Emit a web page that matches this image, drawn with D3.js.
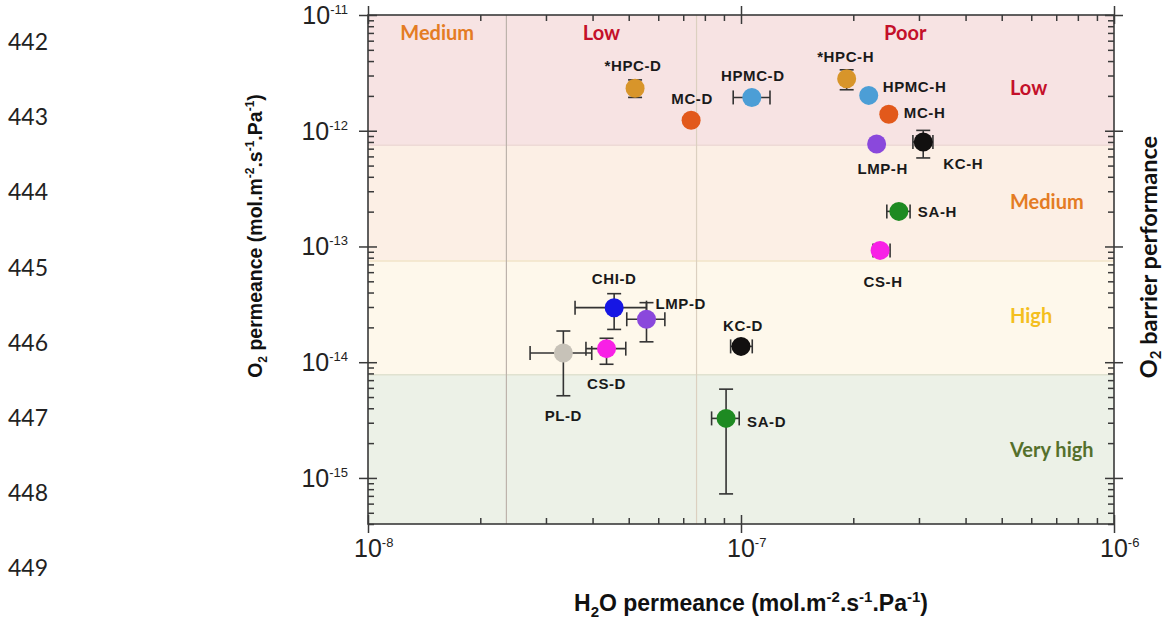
<!DOCTYPE html>
<html>
<head>
<meta charset="utf-8">
<script src="https://cdn.jsdelivr.net/npm/d3@7"></script>
<style>
  html, body { margin: 0; padding: 0; background: #ffffff; }
  svg { display: block; }
</style>
</head>
<body>
<svg id="chart" width="1167" height="619"></svg>
<script>
// ---------------- DATA ----------------
const samples = ["*HPC-D", "MC-D", "HPMC-D", "*HPC-H", "HPMC-H", "MC-H", "LMP-H", "KC-H",
                 "SA-H", "CS-H", "CHI-D", "LMP-D", "CS-D", "PL-D", "KC-D", "SA-D"];
const materials = ["HPC", "MC", "HPMC", "HPC", "HPMC", "MC", "LMP", "KC",
                   "SA", "CS", "CHI", "LMP", "CS", "PL", "KC", "SA"];
// H2O permeance (mol.m-2.s-1.Pa-1)
const h2o     = [5.20e-8, 7.35e-8, 1.069e-7, 1.92e-7, 2.20e-7, 2.49e-7, 2.31e-7, 3.08e-7,
                 2.65e-7, 2.36e-7, 4.57e-8, 5.58e-8, 4.36e-8, 3.34e-8, 1.00e-7, 9.12e-8];
const h2oLow  = [null, null, 9.53e-8, null, null, null, null, 2.89e-7,
                 2.46e-7, 2.26e-7, 3.59e-8, 4.94e-8, 3.84e-8, 2.72e-8, 9.38e-8, 8.34e-8];
const h2oHigh = [null, null, 1.196e-7, null, null, null, null, 3.27e-7,
                 2.84e-7, 2.51e-7, 5.58e-8, 6.25e-8, 4.91e-8, 3.98e-8, 1.072e-7, 9.89e-8];
// O2 permeance (mol.m-2.s-1.Pa-1)
const o2      = [2.33e-12, 1.23e-12, 1.94e-12, 2.81e-12, 2.02e-12, 1.39e-12, 7.68e-13, 8.0e-13,
                 2.01e-13, 9.25e-14, 2.96e-14, 2.35e-14, 1.31e-14, 1.20e-14, 1.37e-14, 3.27e-15];
const o2Low   = [1.94e-12, null, null, 2.26e-12, null, null, null, 5.82e-13,
                 null, null, 1.92e-14, 1.50e-14, 9.6e-15, 5.13e-15, null, 7.28e-16];
const o2High  = [2.75e-12, null, null, 3.36e-12, null, null, null, 1.007e-12,
                 null, null, 3.91e-14, 3.27e-14, 1.61e-14, 1.86e-14, null, 5.85e-15];

// axis ticks
const xTicks = [1e-8, 1e-7, 1e-6];
const xTickExp = ["-8", "-7", "-6"];
const yTicks = [1e-11, 1e-12, 1e-13, 1e-14, 1e-15];
const yTickExp = ["-11", "-12", "-13", "-14", "-15"];

// O2 barrier performance bands (horizontal)
const o2BandNames = ["Low", "Medium", "High", "Very high"];
const o2BandTop    = [1e-11, 7.5e-13, 7.5e-14, 7.8e-15];
const o2BandBottom = [7.5e-13, 7.5e-14, 7.8e-15, 4e-16];
const o2BandLabelAt = [2.34e-12, 2.4e-13, 2.5e-14, 1.74e-15];

// H2O barrier zones (vertical)
const h2oZoneNames = ["Medium", "Low", "Poor"];
const h2oZoneLeft  = [1e-8, 2.35e-8, 7.6e-8];
const h2oZoneRight = [2.35e-8, 7.6e-8, 1e-6];

const lineNumbers = ["442", "443", "444", "445", "446", "447", "448", "449"];

// ---------------- STYLE / LAYOUT ----------------
const materialColor = {
  HPC: "#d8952a", MC: "#e2591b", HPMC: "#4c9ed6", LMP: "#8a48dc", KC: "#121010",
  SA: "#1e8a22", CS: "#f820e6", CHI: "#1616e4", PL: "#c7c2b8"
};
const bandFill = ["#f7e3e3", "#fcefe5", "#fef8eb", "#ecf1e7"];
const bandLine = ["#eedad6", "#f2e4c8", "#e0e2d0", null];
const bandTextColor = ["#c4102a", "#e47c24", "#f4bf1e", "#55702c"];
const zoneTextColor = ["#e47c24", "#c4102a", "#c4102a"];
// label offsets relative to marker centre: [dx, dy, anchor]
const labelPos = [
  [-2, -17, "middle"], [1, -16, "middle"], [1, -16, "middle"], [-1, -17, "middle"],
  [14, -3, "start"], [15, 4, "start"], [6, 30, "middle"], [40, 27, "middle"],
  [19, 6, "start"], [3, 37, "middle"], [0, -24, "middle"], [9, -10, "start"],
  [0, 40, "middle"], [0, 68, "middle"], [2, -15, "middle"], [21, 9, "start"]
];

const svg = d3.select("#chart");
const L = 368, R = 1114, T = 15, B = 524;

const x = d3.scaleLog().domain([1e-8, 1e-6]).range([L, R]);
const y = d3.scaleLog().domain([4e-16, 1e-11]).range([B, T]);

// bands
const g = svg.append("g");
g.selectAll("rect.band").data(o2BandNames).join("rect")
  .attr("x", L).attr("width", R - L)
  .attr("y", (d, i) => y(o2BandTop[i]))
  .attr("height", (d, i) => y(o2BandBottom[i]) - y(o2BandTop[i]))
  .attr("fill", (d, i) => bandFill[i]);
g.selectAll("line.bandline").data(o2BandNames.slice(0, 3)).join("line")
  .attr("x1", L).attr("x2", R)
  .attr("y1", (d, i) => y(o2BandBottom[i])).attr("y2", (d, i) => y(o2BandBottom[i]))
  .attr("stroke", (d, i) => bandLine[i]).attr("stroke-width", 1.5);

// vertical zone lines
g.selectAll("line.zone").data(h2oZoneLeft.slice(1)).join("line")
  .attr("x1", d => x(d)).attr("x2", d => x(d))
  .attr("y1", T).attr("y2", B)
  .attr("stroke", (d, i) => i === 0 ? "#bdb3ab" : "#dcd0c0").attr("stroke-width", 1.2);

// zone labels (top)
g.selectAll("text.zone").data(h2oZoneNames).join("text")
  .attr("x", (d, i) => (x(h2oZoneLeft[i]) + x(h2oZoneRight[i])) / 2)
  .attr("y", 40)
  .attr("text-anchor", "middle")
  .attr("font-family", "Lato, 'Open Sans', sans-serif")
  .attr("font-weight", "bold").attr("font-size", 20)
  .attr("fill", (d, i) => zoneTextColor[i])
  .text(d => d);

// band labels (right side)
g.selectAll("text.band").data(o2BandNames).join("text")
  .attr("x", 1010)
  .attr("y", (d, i) => y(o2BandLabelAt[i]) + 7)
  .attr("font-family", "Lato, 'Open Sans', sans-serif")
  .attr("font-weight", "bold").attr("font-size", 20)
  .attr("fill", (d, i) => bandTextColor[i])
  .text(d => d);

// ---------------- AXES ----------------
const axisColor = "#3a3a3a";
const minorX = [];
[1e-8, 1e-7].forEach(dec => { for (let k = 2; k <= 9; k++) minorX.push(dec * k); });
const minorY = [];
[1e-16, 1e-15, 1e-14, 1e-13, 1e-12].forEach(dec => {
  for (let k = 2; k <= 9; k++) { const v = dec * k; if (v >= 4e-16 && v <= 1e-11) minorY.push(v); }
});

const ax = svg.append("g").attr("stroke", axisColor).attr("fill", "none");
ax.append("rect").attr("x", L).attr("y", T).attr("width", R - L).attr("height", B - T)
  .attr("stroke-width", 1.6);

const xBottom = d3.axisBottom(x).tickValues(xTicks).tickSize(9).tickFormat("");
const xBottomMinor = d3.axisTop(x).tickValues(minorX).tickSize(6).tickFormat("");
const xBottomMajorIn = d3.axisTop(x).tickValues(xTicks).tickSize(9).tickFormat("");
const xTop = d3.axisTop(x).tickValues(xTicks).tickSize(9).tickFormat("");
const xTopMinor = d3.axisBottom(x).tickValues(minorX).tickSize(6).tickFormat("");
const xTopMajorIn = d3.axisBottom(x).tickValues(xTicks).tickSize(9).tickFormat("");
const yLeft = d3.axisLeft(y).tickValues(yTicks).tickSize(9).tickFormat("");
const yLeftMinor = d3.axisRight(y).tickValues(minorY).tickSize(6).tickFormat("");
const yLeftMajorIn = d3.axisRight(y).tickValues(yTicks).tickSize(9).tickFormat("");
const yRight = d3.axisRight(y).tickValues(yTicks).tickSize(9).tickFormat("");
const yRightMinor = d3.axisLeft(y).tickValues(minorY).tickSize(6).tickFormat("");
const yRightMajorIn = d3.axisLeft(y).tickValues(yTicks).tickSize(9).tickFormat("");

function addAxis(axisFn, tx, ty) {
  const a = svg.append("g").attr("transform", `translate(${tx},${ty})`).call(axisFn);
  a.select(".domain").remove();
  a.selectAll(".tick line").attr("stroke", axisColor).attr("stroke-width", 1.5);
  return a;
}
addAxis(xBottom, 0, B); addAxis(xBottomMinor, 0, B); addAxis(xBottomMajorIn, 0, B);
addAxis(xTop, 0, T); addAxis(xTopMinor, 0, T); addAxis(xTopMajorIn, 0, T);
addAxis(yLeft, L, 0); addAxis(yLeftMinor, L, 0); addAxis(yLeftMajorIn, L, 0);
addAxis(yRight, R, 0); addAxis(yRightMinor, R, 0); addAxis(yRightMajorIn, R, 0);

// tick labels
const tickFont = "'Liberation Sans', Arial, sans-serif";
const xl = svg.append("g").selectAll("text").data(xTicks).join("text")
  .attr("x", d => x(d) - 14).attr("y", 557)
  .attr("font-family", tickFont).attr("font-size", 25).attr("fill", "#222");
xl.append("tspan").text("10");
xl.append("tspan").attr("font-size", 13).attr("dy", -10).text((d, i) => xTickExp[i]);

const yl = svg.append("g").selectAll("text").data(yTicks).join("text")
  .attr("x", 348).attr("y", d => y(d) + 9)
  .attr("text-anchor", "end")
  .attr("font-family", tickFont).attr("font-size", 25).attr("fill", "#222");
yl.append("tspan").text("10");
yl.append("tspan").attr("font-size", 13).attr("dy", -10).text((d, i) => yTickExp[i]);

// axis titles
const titleFont = "'Liberation Sans', Arial, sans-serif";
const xt = svg.append("text").attr("x", 751).attr("y", 611)
  .attr("text-anchor", "middle").attr("font-family", titleFont)
  .attr("font-weight", "bold").attr("font-size", 23).attr("fill", "#111");
xt.append("tspan").text("H");
xt.append("tspan").attr("font-size", 15).attr("dy", 6).text("2");
xt.append("tspan").attr("dy", -6).text("O permeance (mol.m");
xt.append("tspan").attr("font-size", 15).attr("dy", -9).text("-2");
xt.append("tspan").attr("dy", 9).text(".s");
xt.append("tspan").attr("font-size", 15).attr("dy", -9).text("-1");
xt.append("tspan").attr("dy", 9).text(".Pa");
xt.append("tspan").attr("font-size", 15).attr("dy", -9).text("-1");
xt.append("tspan").attr("dy", 9).text(")");

const yt = svg.append("text").attr("transform", "translate(262,236) rotate(-90)")
  .attr("text-anchor", "middle").attr("font-family", titleFont)
  .attr("font-weight", "bold").attr("font-size", 19.5).attr("fill", "#111");
yt.append("tspan").text("O");
yt.append("tspan").attr("font-size", 12).attr("dy", 5).text("2");
yt.append("tspan").attr("dy", -5).text(" permeance (mol.m");
yt.append("tspan").attr("font-size", 12).attr("dy", -8).text("-2");
yt.append("tspan").attr("dy", 8).text(".s");
yt.append("tspan").attr("font-size", 12).attr("dy", -8).text("-1");
yt.append("tspan").attr("dy", 8).text(".Pa");
yt.append("tspan").attr("font-size", 12).attr("dy", -8).text("-1");
yt.append("tspan").attr("dy", 8).text(")");

const rt = svg.append("text").attr("transform", "translate(1157,257) rotate(-90)")
  .attr("text-anchor", "middle").attr("font-family", "Lato, 'Open Sans', sans-serif")
  .attr("font-weight", "bold").attr("font-size", 23.5).attr("fill", "#111");
rt.append("tspan").text("O");
rt.append("tspan").attr("font-size", 15).attr("dy", 4).text("2");
rt.append("tspan").attr("dy", -4).text(" barrier performance");

// line numbers
svg.append("g").selectAll("text").data(lineNumbers).join("text")
  .attr("x", 8).attr("y", (d, i) => 50 + i * 75.2)
  .attr("font-family", "Lato, 'Open Sans', sans-serif").attr("font-size", 23)
  .attr("fill", "#222").text(d => d);

// ---------------- MARKS ----------------
const idx = d3.range(samples.length);
const eb = svg.append("g").attr("stroke", "#333").attr("stroke-width", 1.6).attr("fill", "none");
const cap = 7;
idx.filter(i => o2Low[i] !== null).forEach(i => {
  const cx = x(h2o[i]);
  eb.append("line").attr("x1", cx).attr("x2", cx).attr("y1", y(o2Low[i])).attr("y2", y(o2High[i]));
  eb.append("line").attr("x1", cx - cap).attr("x2", cx + cap).attr("y1", y(o2Low[i])).attr("y2", y(o2Low[i]));
  eb.append("line").attr("x1", cx - cap).attr("x2", cx + cap).attr("y1", y(o2High[i])).attr("y2", y(o2High[i]));
});
idx.filter(i => h2oLow[i] !== null).forEach(i => {
  const cy = y(o2[i]);
  eb.append("line").attr("x1", x(h2oLow[i])).attr("x2", x(h2oHigh[i])).attr("y1", cy).attr("y2", cy);
  eb.append("line").attr("x1", x(h2oLow[i])).attr("x2", x(h2oLow[i])).attr("y1", cy - cap).attr("y2", cy + cap);
  eb.append("line").attr("x1", x(h2oHigh[i])).attr("x2", x(h2oHigh[i])).attr("y1", cy - cap).attr("y2", cy + cap);
});

svg.append("g").selectAll("circle").data(idx).join("circle")
  .attr("cx", i => x(h2o[i])).attr("cy", i => y(o2[i])).attr("r", 9.5)
  .attr("fill", i => materialColor[materials[i]]);

svg.append("g").selectAll("text").data(idx).join("text")
  .attr("x", i => x(h2o[i]) + labelPos[i][0])
  .attr("y", i => y(o2[i]) + labelPos[i][1])
  .attr("text-anchor", i => labelPos[i][2])
  .attr("font-family", "'Liberation Sans', Arial, sans-serif")
  .attr("font-weight", "bold").attr("font-size", 15).attr("letter-spacing", 0.6)
  .attr("fill", "#1a1a1a")
  .text(i => samples[i]);
</script>
</body>
</html>
